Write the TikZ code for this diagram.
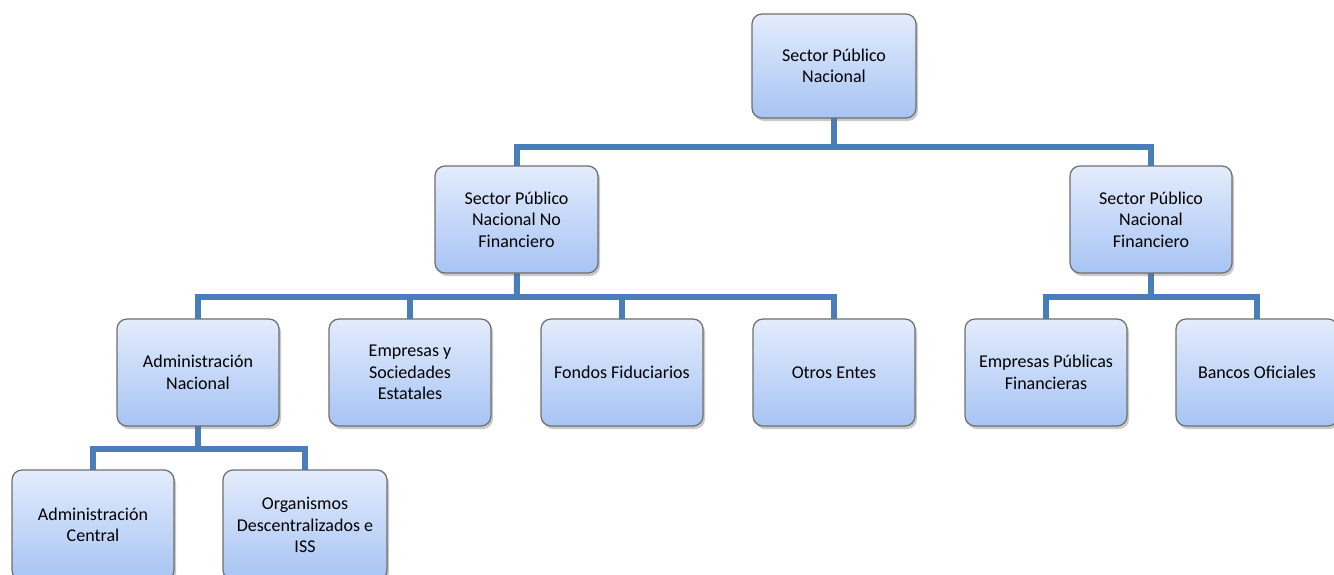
\documentclass[tikz,border=0pt]{standalone}
\usepackage{fontspec}
\setmainfont{Carlito}
\usetikzlibrary{shadows}
\definecolor{linec}{HTML}{4A7EBB}
\definecolor{boxtop}{HTML}{E3ECFC}
\definecolor{boxbot}{HTML}{A7C4F4}
\definecolor{boxdraw}{HTML}{6E6E6E}
\tikzset{
  orgbox/.style={draw=boxdraw, line width=1.2pt, rounded corners=10pt,
    top color=boxtop, bottom color=boxbot, align=center,
    font=\fontsize{18}{21.5}\selectfont, inner sep=0pt, text=black,
    drop shadow={shadow xshift=2pt, shadow yshift=-3pt, opacity=0.35, fill=black!60}},
  conn/.style={draw=linec, line width=6pt, line join=miter}
}
\newcommand{\orgnode}[6]{% name, x1, y1, x2, y2, text
  \node[orgbox, minimum width=#4-#2, minimum height=#5-#3] (#1) at ({(#2+#4)/2},{(#3+#5)/2}) {#6};}
\begin{document}
\begin{tikzpicture}[x=1pt,y=-1pt]
\useasboundingbox (0,0) rectangle (1334,574);
\clip (0,0) rectangle (1334,574);
\fill[white] (0,0) rectangle (1334,574);
% junction levels
\coordinate (j1) at (834,147);
\coordinate (j2) at (517,297);
\coordinate (j3) at (1151,297);
\coordinate (j4) at (198,449);
% box centres (connectors are drawn first, boxes cover them)
\coordinate (cspn) at (834,66);
\coordinate (cnf) at (516.5,219.5);
\coordinate (cfin) at (1151,219.5);
\coordinate (can) at (198,372.5);
\coordinate (ces) at (410,372.5);
\coordinate (cff) at (622,372.5);
\coordinate (coe) at (834,372.5);
\coordinate (cepf) at (1046,372.5);
\coordinate (cbo) at (1257,372.5);
\coordinate (cac) at (93,525);
\coordinate (cod) at (305,525);
% connectors
\path[conn] (cspn) -- (j1);
\path[conn] (cnf) -- (cnf |- j1) -- (cfin |- j1) -- (cfin);
\path[conn] (cnf) -- (j2);
\path[conn] (can) -- (can |- j2) -- (coe |- j2) -- (coe);
\path[conn] (ces) -- (ces |- j2);
\path[conn] (cff) -- (cff |- j2);
\path[conn] (cfin) -- (j3);
\path[conn] (cepf) -- (cepf |- j3) -- (cbo |- j3) -- (cbo);
\path[conn] (can) -- (j4);
\path[conn] (cac) -- (cac |- j4) -- (cod |- j4) -- (cod);
% boxes
\orgnode{spn}{752}{14}{916}{118}{Sector Público\\Nacional}
\orgnode{nf}{435}{166}{598}{273}{Sector Público\\Nacional No\\Financiero}
\orgnode{fin}{1070}{166}{1232}{273}{Sector Público\\Nacional\\Financiero}
\orgnode{an}{117}{319}{279}{426}{Administración\\Nacional}
\orgnode{es}{329}{319}{491}{426}{Empresas y\\Sociedades\\Estatales}
\orgnode{ff}{541}{319}{703}{426}{Fondos Fiduciarios}
\orgnode{oe}{753}{319}{915}{426}{Otros Entes}
\orgnode{epf}{965}{319}{1127}{426}{Empresas Públicas\\Financieras}
\orgnode{bo}{1176}{319}{1338}{426}{Bancos Oficiales}
\orgnode{ac}{12}{470}{174}{580}{Administración\\Central}
\orgnode{od}{223}{470}{387}{580}{Organismos\\Descentralizados e\\ISS}
\end{tikzpicture}
\end{document}
